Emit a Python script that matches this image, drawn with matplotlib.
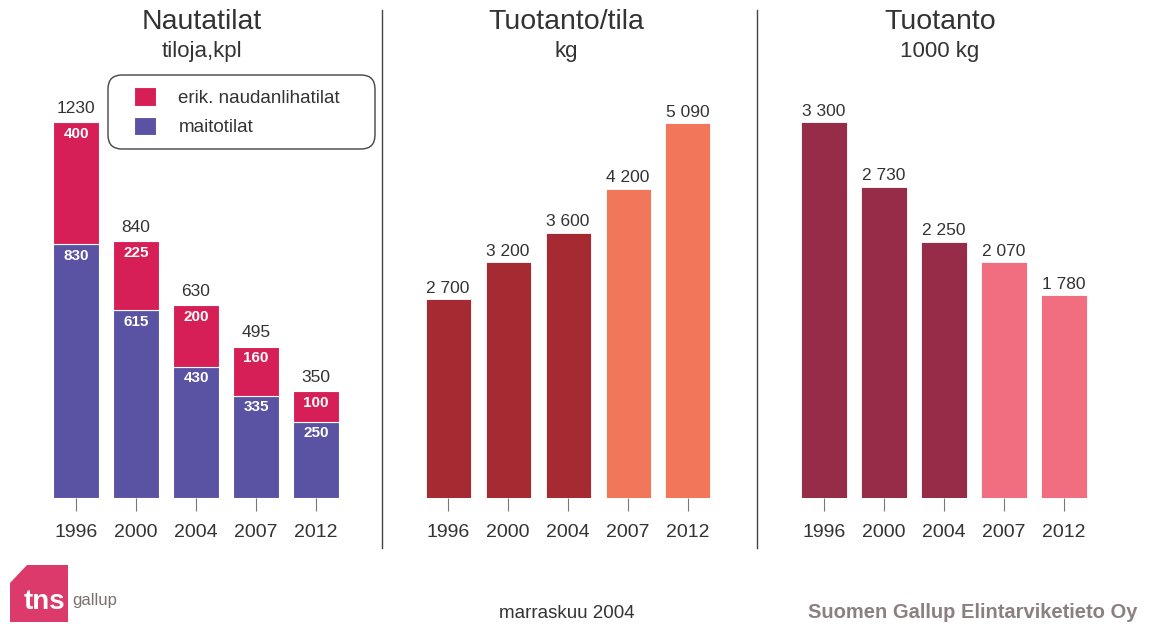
import matplotlib
matplotlib.use("Agg")
import matplotlib.pyplot as plt
from matplotlib.patches import Polygon, FancyBboxPatch

plt.rcParams['font.family'] = ['Liberation Sans', 'DejaVu Sans']

years = ['1996', '2000', '2004', '2007', '2012']
maito = [830, 615, 430, 335, 250]          # maitotilat
liha = [400, 225, 200, 160, 100]           # erik. naudanlihatilat
totals = [1230, 840, 630, 495, 350]
tuotanto_tila = [2700, 3200, 3600, 4200, 5090]   # kg
tuotanto = [3300, 2730, 2250, 2070, 1780]        # 1000 kg

c_red = '#D61F56'
c_blue = '#5A52A3'
c_dark = '#333333'

W, H = 1155, 626
fig = plt.figure(figsize=(W / 100, H / 100), dpi=100)

def px_axes(left, top, width, height):      # axes from pixel box
    return fig.add_axes([left / W, 1 - (top + height) / H, width / W, height / H])

def fmt(v):
    return f"{v:,}".replace(",", " ")

def style(ax, ytop):
    ax.set_xlim(-0.5, 4.5)
    ax.set_ylim(0, ytop)
    for s in ax.spines.values():
        s.set_visible(False)
    ax.set_yticks([])
    ax.set_xticks(range(len(years)))
    ax.set_xticklabels(years, fontsize=14, color=c_dark)
    ax.tick_params(axis='x', length=9.5, width=0.8, color='#777777', pad=9)
    ax.patch.set_alpha(0)

x = list(range(len(years)))

# panel 1 - Nautatilat
ax1 = px_axes(46, 100, 300, 398)
b1 = ax1.bar(x, maito, width=0.77, color=c_blue, edgecolor='white', linewidth=0.8, label='maitotilat')
b2 = ax1.bar(x, liha, width=0.77, bottom=maito, color=c_red, edgecolor='white', linewidth=0.8,
             label='erik. naudanlihatilat')
style(ax1, 1302)
for i in x:
    ax1.annotate(str(totals[i]), (i, totals[i]), xytext=(0, 4.5), textcoords='offset points',
                 ha='center', va='bottom', fontsize=12.5, color=c_dark)
    ax1.annotate(str(liha[i]), (i, totals[i]), xytext=(0, -8.5), textcoords='offset points',
                 ha='center', va='center', fontsize=11, color='white', fontweight='bold')
    ax1.annotate(str(maito[i]), (i, maito[i]), xytext=(0, -8.5), textcoords='offset points',
                 ha='center', va='center', fontsize=11, color='white', fontweight='bold')

# panel 2 - Tuotanto/tila
ax2 = px_axes(418, 100, 300, 398)
cols2 = ['#A62A32', '#A62A32', '#A62A32', '#F27659', '#F27659']
ax2.bar(x, tuotanto_tila, width=0.75, color=cols2, edgecolor='white', linewidth=0.6)
style(ax2, 5402)
for i in x:
    ax2.annotate(fmt(tuotanto_tila[i]), (i, tuotanto_tila[i]), xytext=(0, 2.5), textcoords='offset points',
                 ha='center', va='bottom', fontsize=12.5, color=c_dark)

# panel 3 - Tuotanto
ax3 = px_axes(794, 100, 300, 398)
cols3 = ['#962C48', '#962C48', '#962C48', '#F06E80', '#F06E80']
ax3.bar(x, tuotanto, width=0.77, color=cols3, edgecolor='white', linewidth=0.6)
style(ax3, 3493)
for i in x:
    ax3.annotate(fmt(tuotanto[i]), (i, tuotanto[i]), xytext=(0, 2.5), textcoords='offset points',
                 ha='center', va='bottom', fontsize=12.5, color=c_dark)

# titles
for cx, t1, t2 in [(202, 'Nautatilat', 'tiloja,kpl'), (566, 'Tuotanto/tila', 'kg'), (940, 'Tuotanto', '1000 kg')]:
    fig.text(cx / W, 1 - 22 / H, t1, ha='center', va='center', fontsize=20.5, color=c_dark)
    fig.text(cx / W, 1 - 51 / H, t2, ha='center', va='center', fontsize=16, color=c_dark)

# overlay in pixel coords for separators, legend box and logo
ov = fig.add_axes([0, 0, 1, 1], zorder=-1)
ov.set_xlim(0, W)
ov.set_ylim(H, 0)
ov.axis('off')
ov.plot([382, 382], [10, 548], color='#444444', lw=1)
ov.plot([757, 757], [10, 548], color='#444444', lw=1)
ov.add_patch(FancyBboxPatch((108, 75), 267, 74, boxstyle='round,pad=0,rounding_size=14',
                            facecolor='white', edgecolor='#444444', lw=1))
ov.add_patch(Polygon([(27, 565), (68, 565), (68, 622), (10, 622), (10, 583)], closed=True,
                     facecolor='#DC3A6A', edgecolor='none'))
ov.text(24, 602, 'tns', color='white', fontsize=20, fontweight='bold', ha='left', va='center')
ov.text(72, 601, 'gallup', color='#7A7070', fontsize=12, ha='left', va='center')

leg = fig.legend(handles=[b2, b1], labels=['erik. naudanlihatilat', 'maitotilat'],
                 loc='upper left', bbox_to_anchor=(134 / W, 1 - 87 / H), frameon=False,
                 fontsize=13.5, handlelength=1.17, handleheight=1.17, handletextpad=1.2,
                 labelspacing=0.52, borderpad=0, borderaxespad=0)
for t in leg.get_texts():
    t.set_color(c_dark)

# footer
fig.text(567 / W, 1 - 614 / H, 'marraskuu 2004', ha='center', va='center', fontsize=13.5, color=c_dark)
fig.text(1138 / W, 1 - 613 / H, 'Suomen Gallup Elintarviketieto Oy', ha='right', va='center',
         fontsize=14.5, fontweight='bold', color='#8C7F7F')

fig.savefig('out.png', dpi=100, facecolor='white')
